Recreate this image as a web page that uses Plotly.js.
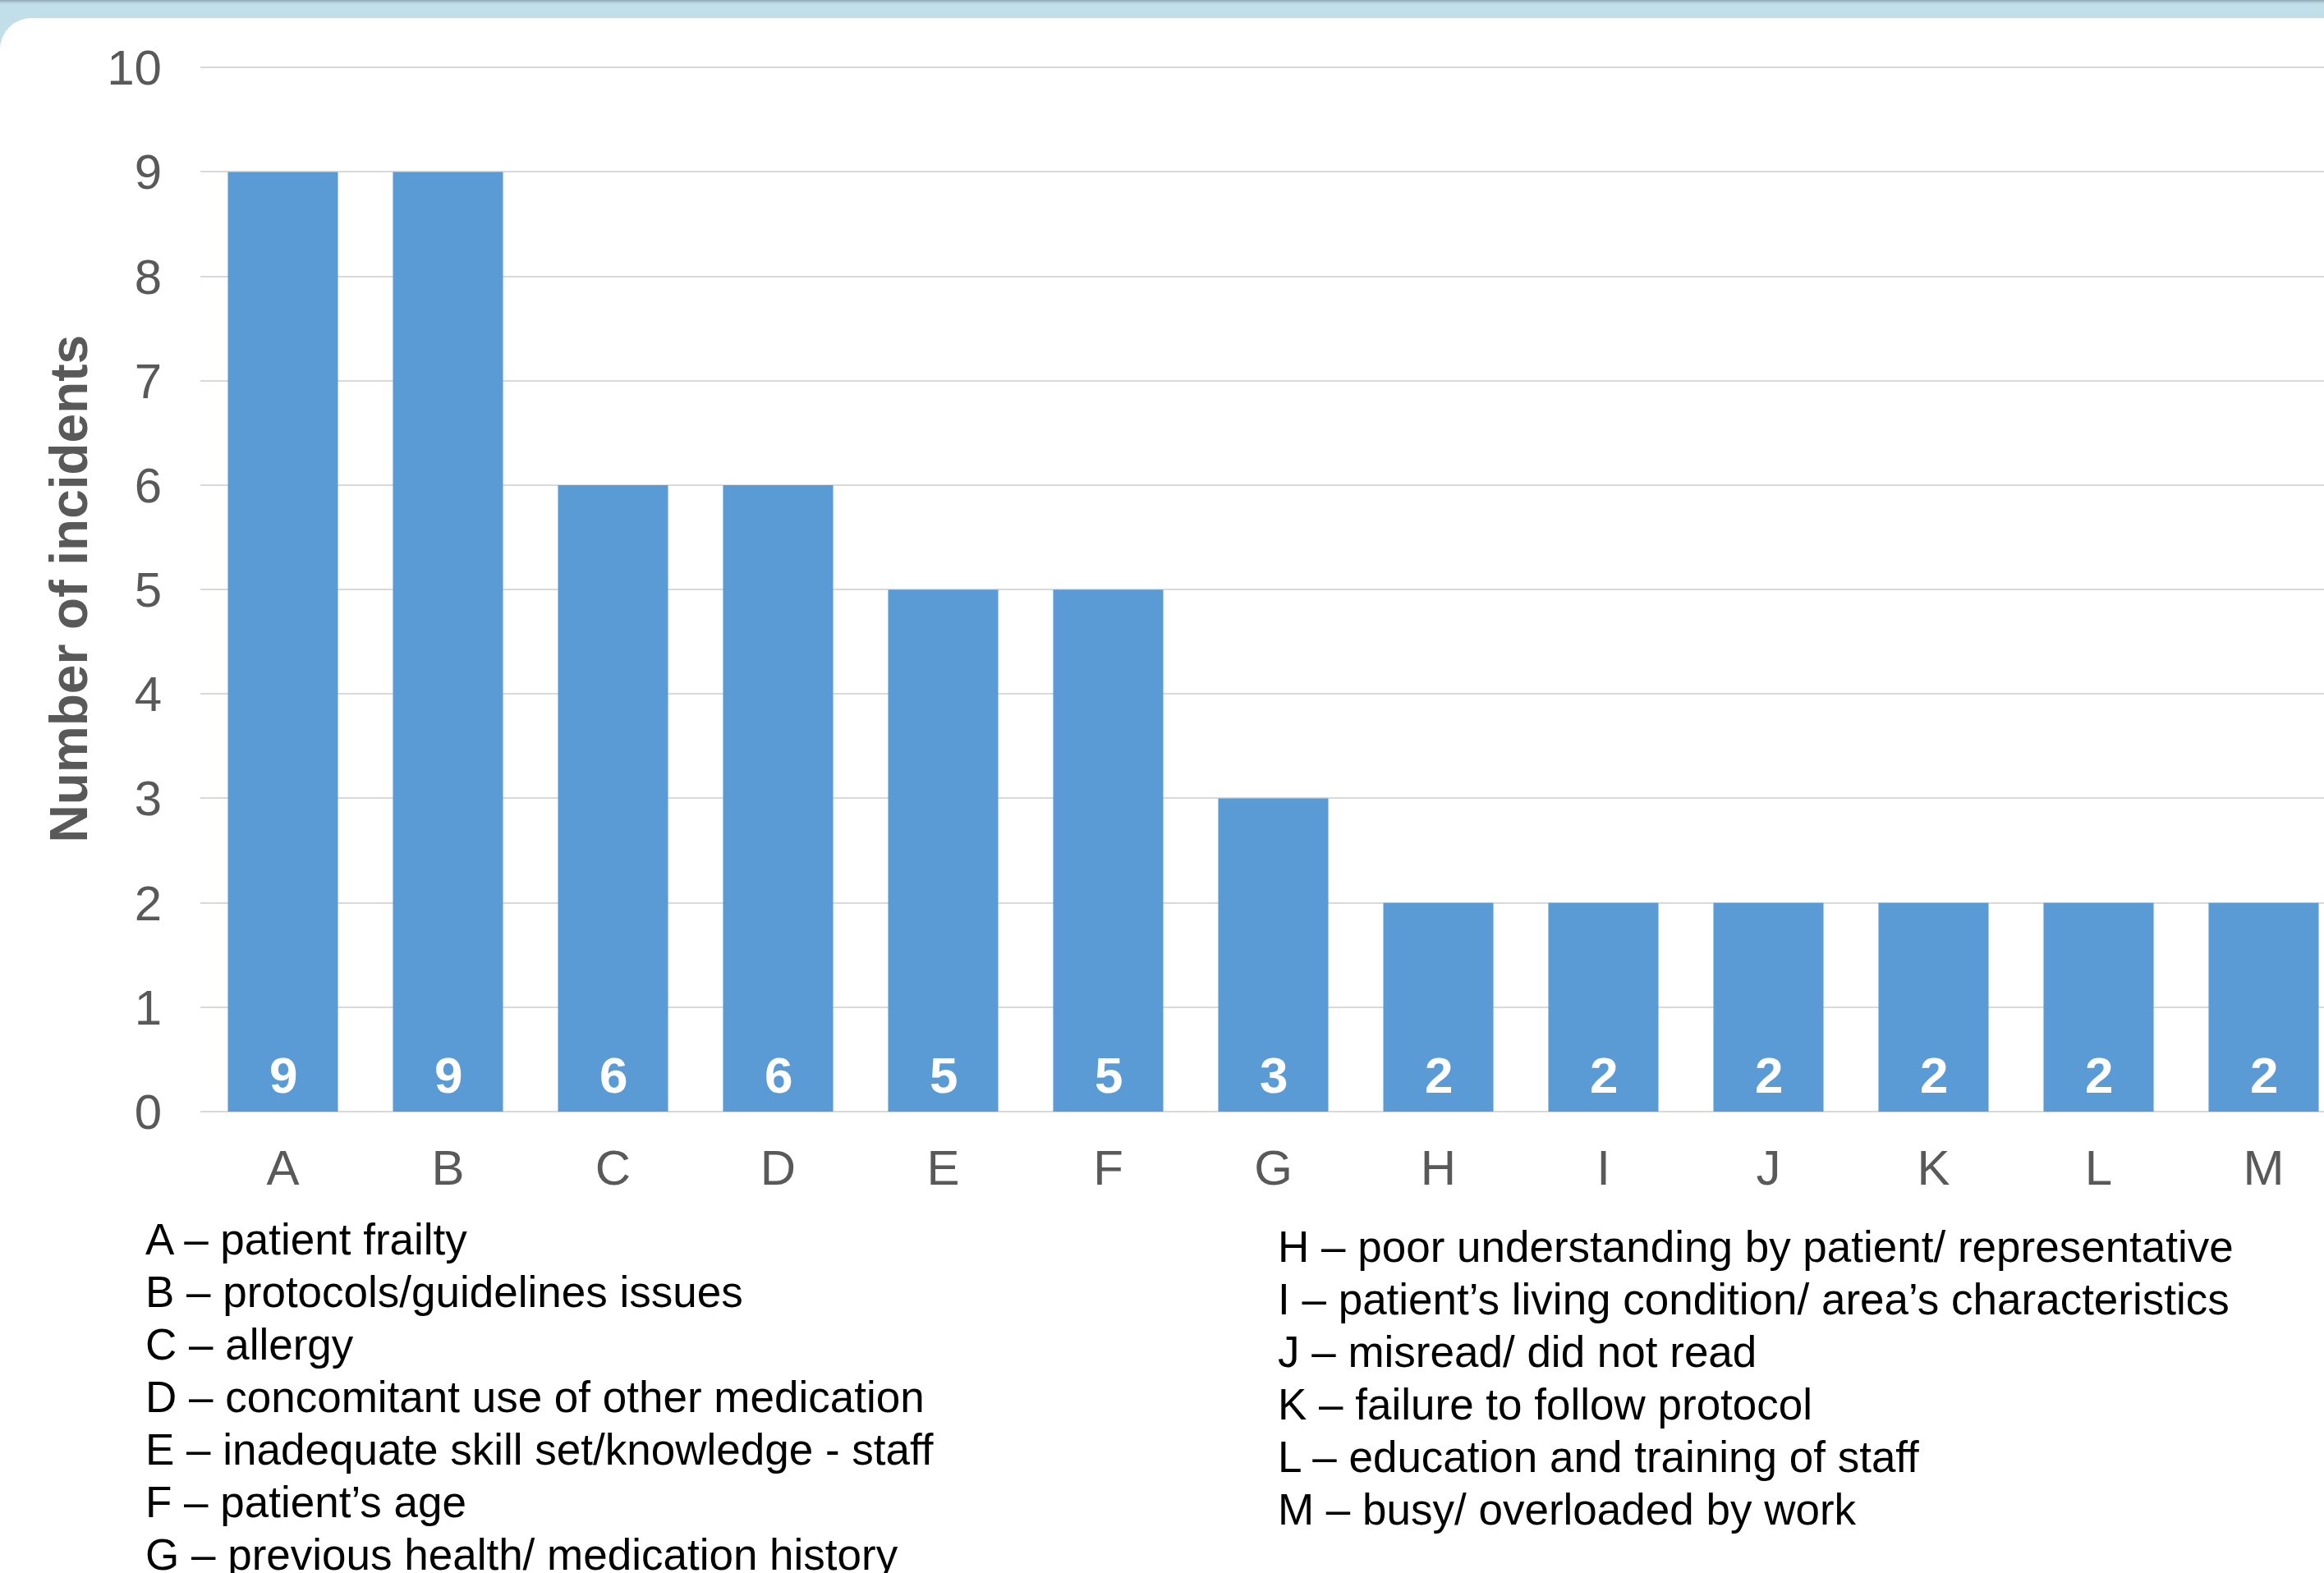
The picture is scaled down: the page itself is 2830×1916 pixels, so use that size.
<!DOCTYPE html>
<html>
<head>
<meta charset="utf-8">
<script src="https://cdn.plot.ly/plotly-3.0.1.min.js"></script>
<style>
  html, body { margin:0; padding:0; width:2830px; height:1916px; overflow:hidden;
    background: linear-gradient(to bottom, #8ea6b2 0px, #b4cfdb 3px, #c2dee9 5px, #c2dee9 100%); }
  #card { position:absolute; left:0; top:22px; width:2830px; height:1894px; background:#ffffff;
    border-top-left-radius:38px; }
  #chart { position:absolute; left:0; top:0; width:2830px; height:1916px; }
</style>
</head>
<body>
<div id="card"></div>
<div id="chart"></div>
<script>
// ---- data ----
const categories = ['A','B','C','D','E','F','G','H','I','J','K','L','M'];
const incidents = [9, 9, 6, 6, 5, 5, 3, 2, 2, 2, 2, 2, 2];
const descriptions = [
  'patient frailty',
  'protocols/guidelines issues',
  'allergy',
  'concomitant use of other medication',
  'inadequate skill set/knowledge - staff',
  'patient\u2019s age',
  'previous health/ medication history',
  'poor understanding by patient/ representative',
  'patient\u2019s living condition/ area\u2019s characteristics',
  'misread/ did not read',
  'failure to follow protocol',
  'education and training of staff',
  'busy/ overloaded by work'
];
const yTicks = [0,1,2,3,4,5,6,7,8,9,10];
const yTitle = 'Number of incidents';

// ---- layout helpers ----
const W = 2830, H = 1916;
const M = {l:244, r:0, t:81, b:562};
const PW = W - M.l - M.r, PH = H - M.t - M.b;
const px2x = px => (px - M.l) / PW;
const px2y = py => (H - M.b - py) / PH;
const FONT = '"Liberation Sans", Arial, sans-serif';

const annotations = [];
// value labels inside bars
categories.forEach((c, i) => {
  annotations.push({
    x: c, y: 0, xref:'x', yref:'y', text: String(incidents[i]),
    showarrow:false, yanchor:'bottom', yshift: 8,
    font:{family:FONT, size:62, color:'#ffffff', weight:'bold'}
  });
});
// y axis title
annotations.push({
  xref:'paper', yref:'paper', x: px2x(83), y: 0.5, text: '<b>' + yTitle + '</b>',
  textangle:-90, showarrow:false, xanchor:'center', yanchor:'middle',
  font:{family:FONT, size:64, color:'#595959'}
});
// category descriptions (two columns)
const leftCount = 7;
categories.forEach((c, i) => {
  const left = i < leftCount;
  const row = left ? i : i - leftCount;
  const xpx = left ? 175 : 1554;
  const ypx = (left ? 1509 : 1518) + row * 64;
  annotations.push({
    xref:'paper', yref:'paper', x: px2x(xpx), y: px2y(ypx),
    text: c + ' \u2013 ' + descriptions[i], showarrow:false,
    xanchor:'left', yanchor:'middle', align:'left',
    font:{family:FONT, size:53, color:'#000000'}
  });
});

const trace = {
  type:'bar', x: categories, y: incidents,
  marker:{color:'#5b9bd5', line:{width:0}},
  hoverinfo:'x+y'
};

const layout = {
  width:W, height:H,
  margin:M,
  paper_bgcolor:'rgba(0,0,0,0)', plot_bgcolor:'rgba(0,0,0,0)',
  showlegend:false, bargap:0.333,
  font:{family:FONT, color:'#595959'},
  xaxis:{
    type:'category', range:[-0.5, -0.5 + PW/201],
    showgrid:false, showline:false, zeroline:false, ticks:'',
    tickfont:{family:FONT, size:60, color:'#595959'},
    ticklabelstandoff: 28, fixedrange:true
  },
  yaxis:{
    range:[0,10.01], tickvals:yTicks, ticktext:yTicks.map(String),
    showgrid:true, gridcolor:'#d9d9d9', gridwidth:2,
    zeroline:true, zerolinecolor:'#d9d9d9', zerolinewidth:2,
    showline:false, ticks:'',
    tickfont:{family:FONT, size:60, color:'#595959'},
    ticklabelstandoff: 46, fixedrange:true
  },
  annotations: annotations
};

Plotly.newPlot('chart', [trace], layout, {displayModeBar:false, staticPlot:true});
</script>
</body>
</html>
